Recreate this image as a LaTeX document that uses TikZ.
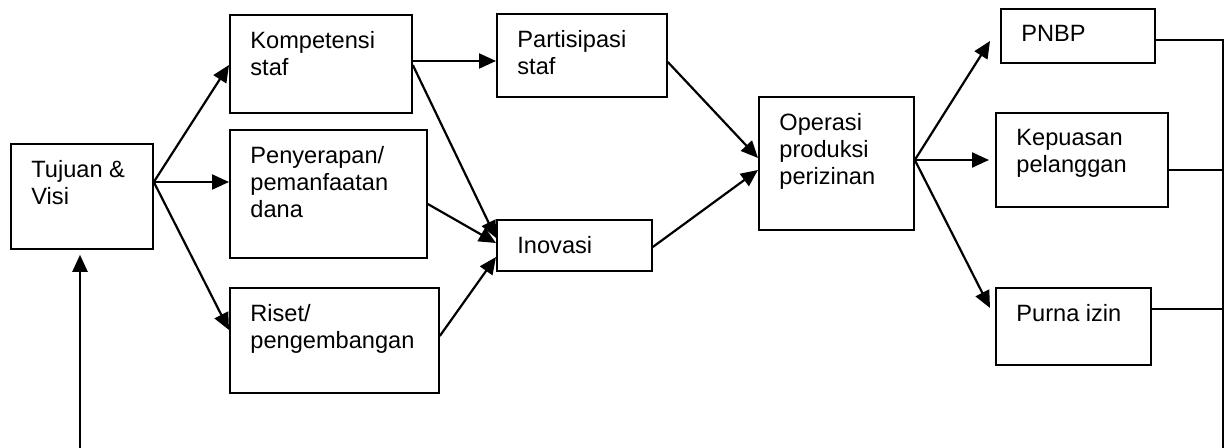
\documentclass[tikz,border=0pt]{standalone}
\usepackage{fontspec}
\setmainfont{Liberation Sans}
\usetikzlibrary{arrows.meta}
\newcommand*{\kotak}[5]{%
  \node [ kotak, anchor = north west, minimum width = #3,
          minimum height = #4,
          label = {[teks]north west:#5} ] (#1) at (#2) {};
}
\begin{document}
\begin{tikzpicture}[x=0.5pt,y=-0.5pt]
		\tikzset{kotak/.style={draw, line width=0.9pt, inner sep=0pt},
			teks/.style={anchor=north west, inner sep=0pt, align=left,
				xshift=10.5pt, yshift=-8.5pt,
				font=\fontsize{11.8}{13.5}\selectfont},
			panah/.style={line width=1.1pt, -{Triangle[length=8.5pt,width=7.5pt]}},
			garis/.style={line width=0.6pt}}
		\useasboundingbox (0,0) rectangle (1225,448);
		\kotak{tujuan}{10,143}{71pt}{52.5pt}{Tujuan \&\\Visi}
		\kotak{kompetensi}{229,14}{91pt}{49pt}{Kompetensi\\staf}
		\kotak{serap}{229,129}{98.5pt}{64pt}{Penyerapan/\\pemanfaatan\\dana}
		\kotak{riset}{229,287}{104.5pt}{52.5pt}{Riset/\\pengembangan}
		\kotak{partisipasi}{496,13}{85pt}{41.5pt}{Partisipasi\\staf}
		\kotak{inovasi}{496,219}{77.5pt}{25.5pt}{Inovasi}
		\kotak{operasi}{758,96}{77.5pt}{66.5pt}{Operasi\\produksi\\perizinan}
		\kotak{pnbp}{1000,8}{77pt}{27pt}{PNBP}
		\kotak{puas}{995,112}{86pt}{47pt}{Kepuasan\\pelanggan}
		\kotak{purna}{995,287}{77.5pt}{38.5pt}{Purna izin}
		% titik cabang
		\coordinate (t0) at ([shift={(0,39)}]tujuan.north east);
		\coordinate (o0) at ([shift={(0,64)}]operasi.north east);
		\coordinate (bawah) at (80,448);
		\coordinate (ka) at (1223,40);
		\coordinate (kb) at (1223,448);
		% panah
		\draw[panah] (bawah) -- ([shift={(70,5)}]tujuan.south west);
		\draw[panah] (t0) -- ([shift={(0,51)}]kompetensi.north west);
		\draw[panah] (t0) -- ([shift={(0,53)}]serap.north west);
		\draw[panah] (t0) -- ([shift={(0,43)}]riset.north west);
		\draw[panah] ([shift={(0,47)}]kompetensi.north east) -- ([shift={(0,48)}]partisipasi.north west);
		\draw[panah] ([shift={(0,51)}]kompetensi.north east) -- ([shift={(0,19)}]inovasi.north west);
		\draw[panah] ([shift={(0,75)}]serap.north east) -- ([shift={(0,24)}]inovasi.north west);
		\draw[panah] ([shift={(0,49)}]riset.north east) -- ([shift={(0,38)}]inovasi.north west);
		\draw[panah] ([shift={(0,49)}]partisipasi.north east) -- ([shift={(0,62)}]operasi.north west);
		\draw[panah] ([shift={(0,28)}]inovasi.north east) -- ([shift={(0,74)}]operasi.north west);
		\draw[panah] (o0) -- ([shift={(-10,33)}]pnbp.north west);
		\draw[panah] (o0) -- ([shift={(-6,48)}]puas.north west);
		\draw[panah] (o0) -- ([shift={(-5,21)}]purna.north west);
		% garis kanan
		\draw[garis] ([shift={(0,32)}]pnbp.north east) -- (ka) -- (kb);
		\draw[garis] ([shift={(0,58)}]puas.north east) -- ([shift={(0,58)}]puas.north east -| ka);
		\draw[garis] ([shift={(0,22)}]purna.north east) -- ([shift={(0,22)}]purna.north east -| ka);
\end{tikzpicture}
\end{document}
